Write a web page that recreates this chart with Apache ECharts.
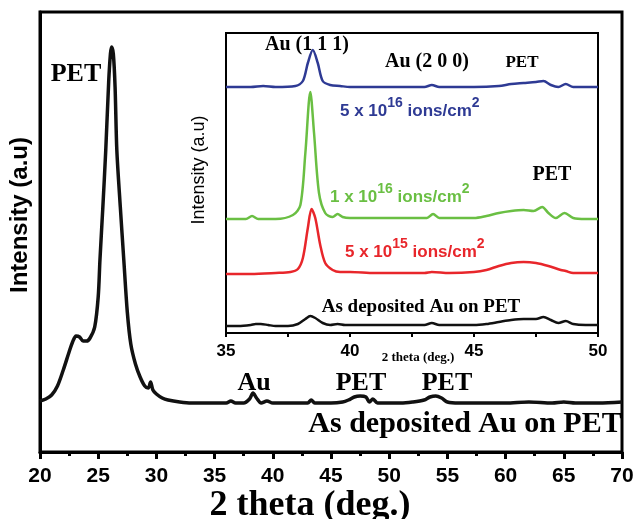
<!DOCTYPE html>
<html><head><meta charset="utf-8">
<script src="https://cdn.jsdelivr.net/npm/echarts@6/dist/echarts.min.js"></script>
<style>html,body{margin:0;padding:0;background:#fff}#c{width:638px;height:519px}</style>
</head><body><div id="c"></div>
<script>
// Main pattern (as deposited Au on PET)
var mainX = [20,20.5,21,21.5,22,22.5,22.8,23.1,23.4,23.7,24.0,24.3,24.7,25.0,25.15,25.4,25.65,25.9,26.05,26.15,26.3,26.45,26.6,26.9,27.2,27.5,27.8,28.2,28.6,29.0,29.3,29.5,29.7,30.0,30.5,31,32,33,34,35,36,36.4,36.8,37.5,38.0,38.3,38.6,39.0,39.5,40,41,42,43,43.3,43.6,44,45,46,46.5,47,47.5,48.0,48.3,48.6,49,50,51,52,53,53.5,54,54.5,55,56,58,60,62,64,65,66,68,70];
var mainY = [51,53,57,66,82,100,110,116,115,111,111,114,125,155,192,245,302,370,398,405,398,365,302,245,192,140,108,88,75,66,64,70,62,58,54,52,50,49,49,49,49,51,49,49,53,59,54,49,51,49,49,49,49,52,49,49,49,50,52,55,56,55,50,53,49,49,49,50,52,55,56,54,50,49,49,49,50,49,50,49,49,50];

// Inset patterns (offset stacked)
var asDepX = [35,35.5,36,36.2,36.4,36.7,37,37.5,37.9,38.2,38.4,38.6,38.9,39.2,39.5,39.8,40.5,41.5,42.5,43.0,43.3,43.6,44,45,45.5,46,46.5,47,47.5,47.8,48.1,48.4,48.7,49.0,49.5,50];
var asDepY = [7,7,8,9,9,8,7,7,9,14,17,15,10,8,9,8,8,8,8,8,10,8,8,8,9,11,13,14,14,16,13,10,12,9,8,8];
var d5e15X = [35,36,37,37.6,37.9,38.1,38.3,38.45,38.6,38.8,39.0,39.3,39.6,40,41,42,43,43.3,44,45,45.5,46,46.5,47,47.5,48,48.5,48.7,49,50];
var d5e15Y = [59,59,60,61,64,75,105,124,115,88,70,63,61,61,60,60,60,61,60,61,63,67,70,71,70,67,63,62,60,60];
var d1e16X = [35,35.8,36.05,36.3,37,37.7,38.0,38.2,38.4,38.55,38.75,39.0,39.3,39.5,39.7,40,41,42,43.1,43.35,43.6,44,45,45.5,46,46.5,47,47.4,47.75,48.0,48.3,48.65,49,49.5,50];
var d1e16Y = [114,114,117,114,114,118,128,180,241,200,140,120,116,119,116,115,115,115,115,119,115,115,115,117,120,122,123,122,126,120,115,120,115,114,114];
var d5e16X = [35,36,36.5,37,37.8,38.1,38.3,38.5,38.7,38.9,39.2,39.6,40,41,42,43.0,43.3,43.6,44,45,46,46.5,47,47.5,47.8,48.1,48.4,48.7,49,49.5,50];
var d5e16Y = [246,246,247,246,247,252,270,283,270,252,248,247,246,246,246,246,248,246,246,246,247,249,250,251,252,248,246,249,246,246,246];

function pairs(xs, ys){ return xs.map(function(x,i){ return [x, ys[i]]; }); }

var serif = '"Liberation Serif", "Times New Roman", serif';
var sans = '"Liberation Sans", Arial, sans-serif';

function txt(x, y, text, font, color, rot) {
  return { type:'text', x:x, y:y, rotation: rot||0, z:100,
    style:{ text:text, font:font, fill:color||'#000', textAlign:'center', textVerticalAlign:'middle' } };
}
function supLabel(x, y, pre, exp, unitExp, color) {
  return { type:'text', x:x, y:y, z:100,
    style:{ text: '{b|' + pre + '}{s|' + exp + '}{b| ions/cm}{s|' + unitExp + '}', fill:color,
      font:'bold 17px ' + sans, textAlign:'left', textVerticalAlign:'middle',
      rich:{
        b:{ fontSize:17, fontWeight:'bold', fontFamily:sans, fill:color, lineHeight:24, verticalAlign:'bottom' },
        s:{ fontSize:14, fontWeight:'bold', fontFamily:sans, fill:color, lineHeight:24, verticalAlign:'top' }
      } } };
}

var chart = echarts.init(document.getElementById('c'), null, {renderer:'canvas'});
chart.setOption({
  animation:false,
  backgroundColor:'#fff',
  grid:[
    {left:40, right:16, top:12, bottom:67, show:true, borderColor:'#000', borderWidth:3, backgroundColor:'transparent'},
    {left:226, right:40, top:33, bottom:186, show:true, borderColor:'#000', borderWidth:2, backgroundColor:'#fff'}
  ],
  xAxis:[
    {gridIndex:0, type:'value', min:20, max:70, interval:5,
      axisLine:{lineStyle:{color:'#000', width:3}},
      axisTick:{inside:false, length:7, lineStyle:{width:3, color:'#000'}},
      minorTick:{show:true, splitNumber:2, length:4, lineStyle:{width:3, color:'#000'}},
      splitLine:{show:false},
      axisLabel:{color:'#000', fontSize:21, fontWeight:'bold', fontFamily:sans, margin:14}},
    {gridIndex:1, type:'value', min:35, max:50, interval:5,
      axisLine:{lineStyle:{color:'#000', width:2}},
      axisTick:{inside:false, length:4, lineStyle:{width:2, color:'#000'}},
      minorTick:{show:true, splitNumber:2, length:4, lineStyle:{width:2, color:'#000'}},
      splitLine:{show:false},
      axisLabel:{color:'#000', fontSize:17, fontWeight:'bold', fontFamily:sans, margin:10}}
  ],
  yAxis:[
    {gridIndex:0, type:'value', min:0, max:440,
      axisLine:{show:true, lineStyle:{color:'#000', width:3}}, axisTick:{show:false},
      axisLabel:{show:false}, splitLine:{show:false}},
    {gridIndex:1, type:'value', min:0, max:300,
      axisLine:{show:true, lineStyle:{color:'#000', width:2}}, axisTick:{show:false},
      axisLabel:{show:false}, splitLine:{show:false}}
  ],
  series:[
    {type:'line', xAxisIndex:0, yAxisIndex:0, data:pairs(mainX, mainY), showSymbol:false, smooth:0.3,
      lineStyle:{color:'#111', width:3.5}, z:3},
    {type:'line', xAxisIndex:1, yAxisIndex:1, data:pairs(asDepX, asDepY), showSymbol:false, smooth:0.3,
      lineStyle:{color:'#111', width:2.5}, z:5},
    {type:'line', xAxisIndex:1, yAxisIndex:1, data:pairs(d5e15X, d5e15Y), showSymbol:false, smooth:0.3,
      lineStyle:{color:'#e8262b', width:2.5}, z:5},
    {type:'line', xAxisIndex:1, yAxisIndex:1, data:pairs(d1e16X, d1e16Y), showSymbol:false, smooth:0.3,
      lineStyle:{color:'#6abf43', width:2.5}, z:5},
    {type:'line', xAxisIndex:1, yAxisIndex:1, data:pairs(d5e16X, d5e16Y), showSymbol:false, smooth:0.3,
      lineStyle:{color:'#2e3a94', width:2.5}, z:5}
  ],
  graphic:[
    txt(20, 215, 'Intensity (a.u)', 'bold 24px ' + sans, '#000', Math.PI/2),
    txt(310, 506, '2 theta (deg.)', 'bold 36px ' + serif),
    txt(76, 74, 'PET', 'bold 26px ' + serif),
    txt(254, 383, 'Au', 'bold 26px ' + serif),
    txt(361, 383, 'PET', 'bold 26px ' + serif),
    txt(447, 383, 'PET', 'bold 26px ' + serif),
    txt(465, 424, 'As deposited Au on PET', 'bold 30px ' + serif),
    txt(199, 170, 'Intensity (a.u)', '18px ' + sans, '#000', Math.PI/2),
    txt(418, 358, '2 theta (deg.)', 'bold 13px ' + serif),
    txt(307, 45, 'Au (1 1 1)', 'bold 20px ' + serif),
    txt(427, 62, 'Au (2 0 0)', 'bold 20px ' + serif),
    txt(522, 63, 'PET', 'bold 17px ' + serif),
    txt(552, 175, 'PET', 'bold 20px ' + serif),
    txt(421, 307, 'As deposited Au on PET', 'bold 19px ' + serif),
    supLabel(340, 108, '5 x 10', '16', '2', '#2e3a94'),
    supLabel(330, 194, '1 x 10', '16', '2', '#6abf43'),
    supLabel(345, 249, '5 x 10', '15', '2', '#e8262b')
  ]
});
</script></body></html>
